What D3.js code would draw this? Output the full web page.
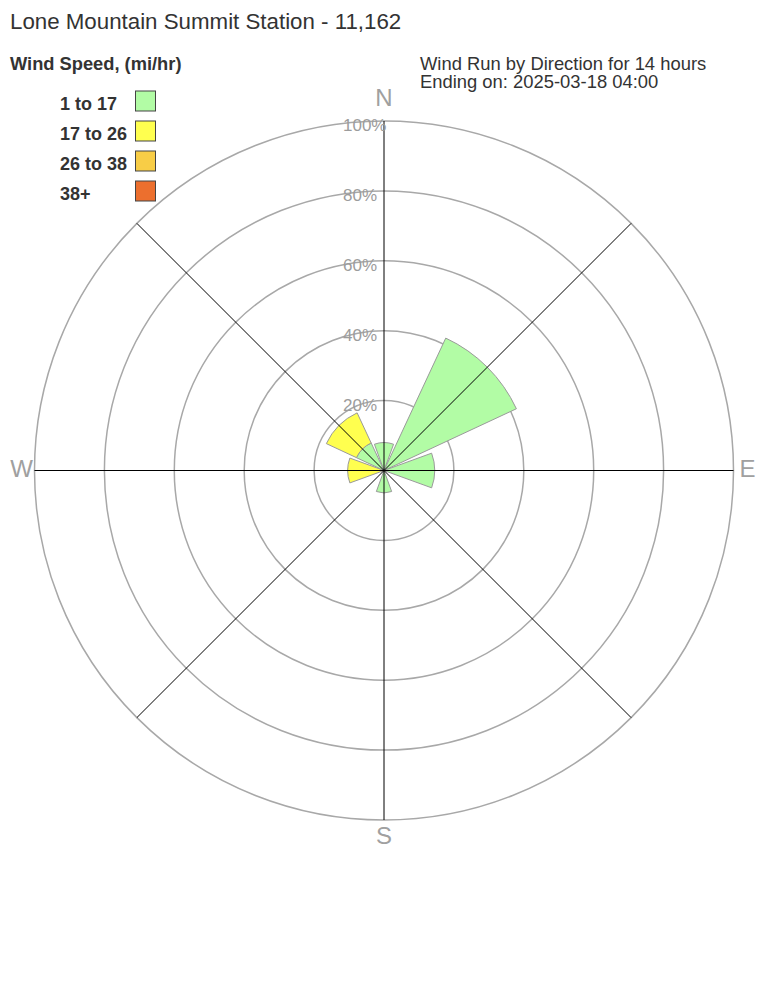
<!DOCTYPE html>
<html>
<head>
<meta charset="utf-8">
<script src="https://cdn.jsdelivr.net/npm/d3@7"></script>
<style>
  html, body { margin: 0; padding: 0; background: #fff; }
  svg { display: block; }
  text { font-family: "Liberation Sans", Arial, Helvetica, sans-serif; }
</style>
</head>
<body>
<svg id="chart" width="768" height="1008"></svg>
<script>
// ---- data ----
const directions = ["N", "NE", "E", "SE", "S", "SW", "W", "NW"];
const dirAngles = [0, 45, 90, 135, 180, 225, 270, 315];
const speedBins = ["1 to 17", "17 to 26", "26 to 38", "38+"];
const binColors = ["#b2fca5", "#ffff4f", "#f8cd46", "#ec6f2e"];
// percent of wind run per direction, per speed bin
const bin1 = [8.0, 41.8, 14.5, 0, 6.4, 0, 0, 8.7];
const bin2 = [0, 0, 0, 0, 0, 0, 10.4, 9.5];
const bin3 = [0, 0, 0, 0, 0, 0, 0, 0];
const bin4 = [0, 0, 0, 0, 0, 0, 0, 0];
const ringTicks = [20, 40, 60, 80, 100];
const compass = [["N", 0], ["E", 90], ["S", 180], ["W", 270]];
const titleText = "Lone Mountain Summit Station - 11,162";
const legendTitle = "Wind Speed, (mi/hr)";
const subText1 = "Wind Run by Direction for 14 hours";
const subText2 = "Ending on: 2025-03-18 04:00";

// ---- layout ----
const svg = d3.select("#chart");
const cx = 384, cy = 470.5, R = 349.5;
const r = d3.scaleLinear().domain([0, 100]).range([0, R]);
const halfWidth = 20 * Math.PI / 180;
const g = svg.append("g").attr("transform", `translate(${cx},${cy})`);

// rings
g.selectAll("circle.ring").data(ringTicks).enter().append("circle")
  .attr("class", "ring")
  .attr("r", d => r(d))
  .attr("fill", "none")
  .attr("stroke", "#a8a8a8")
  .attr("stroke-width", 1.5);

// wedges
const bins = [bin1, bin2, bin3, bin4];
const segs = [];
directions.forEach((dname, i) => {
  let cum = 0;
  bins.forEach((b, k) => {
    const v = b[i];
    if (v > 0) {
      segs.push({ a: dirAngles[i], r0: cum, r1: cum + v, k });
    }
    cum += v;
  });
});
const arc = d3.arc();
g.selectAll("path.seg").data(segs).enter().append("path")
  .attr("class", "seg")
  .attr("d", d => arc({
    innerRadius: r(d.r0),
    outerRadius: r(d.r1),
    startAngle: d.a * Math.PI / 180 - halfWidth,
    endAngle: d.a * Math.PI / 180 + halfWidth
  }))
  .attr("fill", d => binColors[d.k])
  .attr("stroke", "#9a9a9a")
  .attr("stroke-width", 1);

// axis spokes
g.selectAll("line.spoke").data(dirAngles).enter().append("line")
  .attr("class", "spoke")
  .attr("x1", 0).attr("y1", 0)
  .attr("x2", d => r(100) * Math.sin(d * Math.PI / 180))
  .attr("y2", d => -r(100) * Math.cos(d * Math.PI / 180))
  .attr("stroke", "#000")
  .attr("stroke-width", 1);

// ring labels
g.selectAll("text.rl").data(ringTicks).enter().append("text")
  .attr("class", "rl")
  .attr("x", -41)
  .attr("y", d => -r(d) + 10)
  .attr("fill", "#9c9c9c")
  .attr("font-size", 17)
  .text(d => d + "%");

// compass labels
const off = { N: [0, -R - 15.5], S: [0, R + 23.5], W: [-R - 1.5, 6.5], E: [R + 6, 6.5] };
const anch = { N: "middle", S: "middle", W: "end", E: "start" };
g.selectAll("text.cl").data(compass).enter().append("text")
  .attr("class", "cl")
  .attr("x", d => off[d[0]][0])
  .attr("y", d => off[d[0]][1])
  .attr("text-anchor", d => anch[d[0]])
  .attr("fill", "#a0a0a0")
  .attr("font-size", 24)
  .text(d => d[0]);

// title
svg.append("text")
  .attr("x", 10).attr("y", 29)
  .attr("fill", "#333")
  .attr("font-size", 22.3)
  .text(titleText);

// legend
svg.append("text")
  .attr("x", 10).attr("y", 70)
  .attr("fill", "#333")
  .attr("font-size", 18.3)
  .attr("font-weight", "bold")
  .text(legendTitle);

const lg = svg.append("g");
speedBins.forEach((lab, i) => {
  lg.append("text")
    .attr("x", 60).attr("y", 109.5 + i * 30)
    .attr("fill", "#333")
    .attr("font-size", 18)
    .attr("font-weight", "bold")
    .text(lab);
  lg.append("rect")
    .attr("x", 135.5).attr("y", 91 + i * 30)
    .attr("width", 20).attr("height", 20)
    .attr("fill", binColors[i])
    .attr("stroke", "#444")
    .attr("stroke-width", 1);
});

// subtitle
svg.append("text")
  .attr("x", 420).attr("y", 69.5)
  .attr("fill", "#333")
  .attr("font-size", 18.4)
  .text(subText1);
svg.append("text")
  .attr("x", 420).attr("y", 87.5)
  .attr("fill", "#333")
  .attr("font-size", 18.4)
  .text(subText2);
</script>
</body>
</html>
